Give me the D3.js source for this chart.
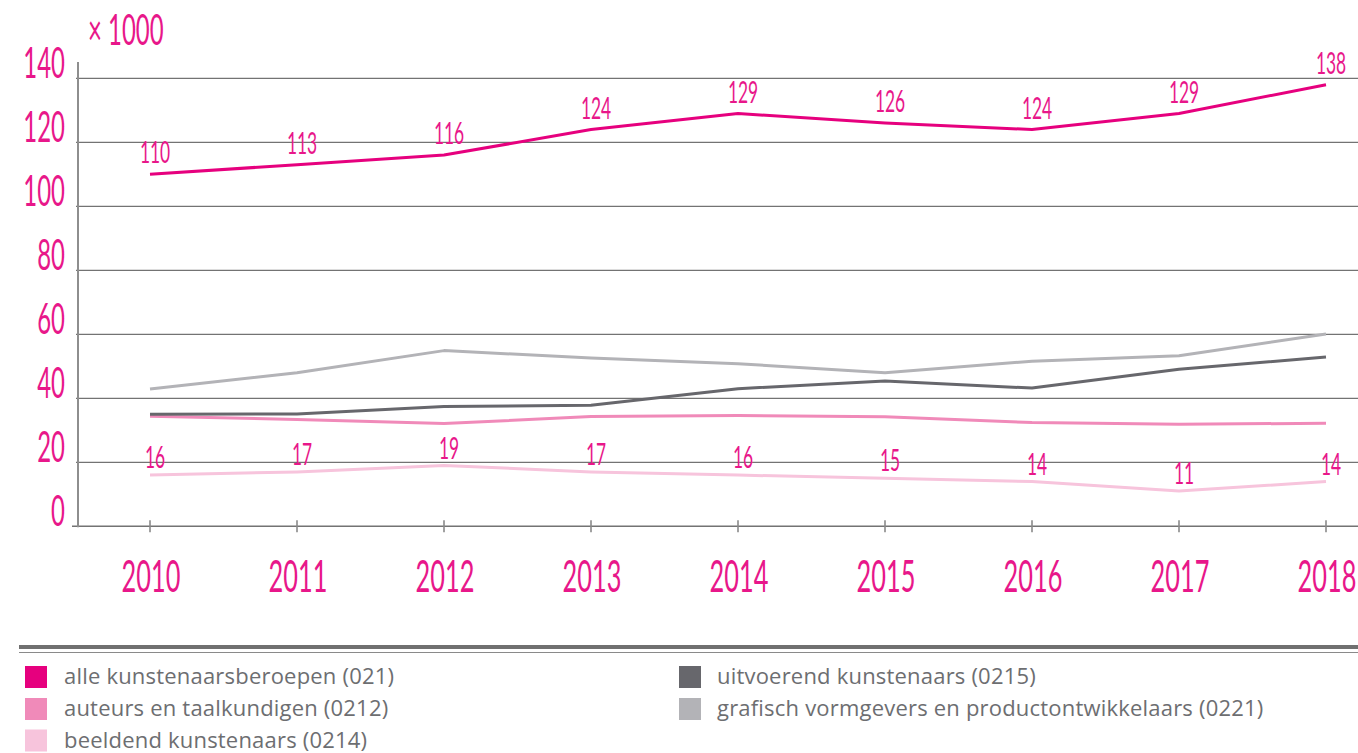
<!DOCTYPE html>
<html>
<head>
<meta charset="utf-8">
<script src="https://cdn.jsdelivr.net/npm/d3@7/dist/d3.min.js"></script>
<style>
  html, body { margin: 0; padding: 0; background: #ffffff; }
  svg { display: block; }
</style>
</head>
<body>
<svg id="chart" width="1358" height="753"></svg>
<script>
// Werkzame kunstenaars per beroepsgroep, x 1000
const years = [2010, 2011, 2012, 2013, 2014, 2015, 2016, 2017, 2018];
const yTicks = [0, 20, 40, 60, 80, 100, 120, 140];

const alleKunstenaars = [110, 113, 116, 124, 129, 126, 124, 129, 138];
const auteurs        = [34.4, 33.4, 32.1, 34.3, 34.6, 34.2, 32.4, 31.9, 32.2];
const beeldend       = [16, 17, 19, 17, 16, 15, 14, 11, 14];
const uitvoerend     = [35.0, 35.1, 37.4, 37.8, 43.0, 45.4, 43.2, 49.1, 52.9];
const grafisch       = [42.9, 48.0, 54.9, 52.6, 50.8, 48.0, 51.6, 53.3, 60.1];

const seriesNames = [
  "alle kunstenaarsberoepen (021)",
  "auteurs en taalkundigen (0212)",
  "beeldend kunstenaars (0214)",
  "uitvoerend kunstenaars (0215)",
  "grafisch vormgevers en productontwikkelaars (0221)"
];
const seriesValues = [alleKunstenaars, auteurs, beeldend, uitvoerend, grafisch];
const seriesColors = ["#e6007e", "#f08ab9", "#f7c4dc", "#67676c", "#b3b3b7"];
// series whose values are printed above the line (lift in px)
const labelledSeries = { 0: 11, 2: 7 };
// draw order: light lines first, main line on top
const drawOrder = [2, 1, 4, 3, 0];

const magenta = "#e8178a";
const gridGrey = "#737373";
const numFont = "Lato, 'Liberation Sans', Arial, sans-serif";
const squeeze = 0.57;

const svg = d3.select("#chart");

const x = d3.scalePoint().domain(years).range([150, 1326]);
const y = d3.scaleLinear().domain([0, 140]).range([526.3, 78.3]);

// condensed number text
function numText(g, str, px, py, size, anchor) {
  return g.append("text")
    .attr("transform", `translate(${px},${py}) scale(${squeeze},1)`)
    .attr("text-anchor", anchor)
    .attr("font-family", numFont)
    .attr("font-weight", 400)
    .attr("font-size", size)
    .attr("fill", magenta)
    .text(str);
}

// horizontal gridlines
const grid = svg.append("g");
grid.selectAll("line")
  .data(yTicks.filter(d => d > 0))
  .join("line")
  .attr("x1", 76).attr("x2", 1358)
  .attr("y1", d => y(d)).attr("y2", d => y(d))
  .attr("stroke", gridGrey)
  .attr("stroke-width", 1.2);

// baseline and vertical axis
svg.append("line")
  .attr("x1", 72).attr("x2", 1358)
  .attr("y1", y(0)).attr("y2", y(0))
  .attr("stroke", gridGrey).attr("stroke-width", 1.5);
svg.append("line")
  .attr("x1", 78).attr("x2", 78)
  .attr("y1", 62).attr("y2", y(0) + 1)
  .attr("stroke", "#8e8e8e").attr("stroke-width", 2);

// year ticks
svg.append("g").selectAll("line")
  .data(years)
  .join("line")
  .attr("x1", d => x(d)).attr("x2", d => x(d))
  .attr("y1", y(0) - 6).attr("y2", y(0) + 6)
  .attr("stroke", "#8a8a8a").attr("stroke-width", 1.6);

// y tick labels
const yLab = svg.append("g");
yTicks.forEach(t => numText(yLab, String(t), 65, y(t), 42, "end"));
numText(svg, "\u00d7 1000", 88, 45, 42, "start");

// x tick labels
const xLab = svg.append("g");
years.forEach(yr => numText(xLab, String(yr), x(yr) + 1, 591.5, 44.5, "middle"));

// lines
const line = d3.line()
  .x((d, i) => x(years[i]))
  .y(d => y(d));

const linesG = svg.append("g");
drawOrder.forEach(si => {
  linesG.append("path")
    .datum(seriesValues[si])
    .attr("d", line)
    .attr("fill", "none")
    .attr("stroke", seriesColors[si])
    .attr("stroke-width", 3)
    .attr("stroke-linejoin", "round");
});

// value labels
const valG = svg.append("g");
Object.keys(labelledSeries).forEach(k => {
  const si = +k;
  const lift = labelledSeries[k];
  seriesValues[si].forEach((v, i) => {
    numText(valG, String(v), x(years[i]) + 5, y(v) - lift, 30.5, "middle");
  });
});

// legend rule
svg.append("line")
  .attr("x1", 19).attr("x2", 1358).attr("y1", 647).attr("y2", 647)
  .attr("stroke", "#707070").attr("stroke-width", 4);
svg.append("line")
  .attr("x1", 19).attr("x2", 1358).attr("y1", 652.5).attr("y2", 652.5)
  .attr("stroke", "#8a8a8a").attr("stroke-width", 1.2);

// legend entries
const legendPos = [
  { sx: 25, tx: 64, cy: 677 },
  { sx: 25, tx: 64, cy: 709 },
  { sx: 25, tx: 64, cy: 740.5 },
  { sx: 679, tx: 717, cy: 677 },
  { sx: 679, tx: 717, cy: 709 }
];
const legend = svg.append("g");
seriesNames.forEach((name, i) => {
  const p = legendPos[i];
  legend.append("rect")
    .attr("x", p.sx).attr("y", p.cy - 11)
    .attr("width", 22).attr("height", 22)
    .attr("fill", seriesColors[i]);
  legend.append("text")
    .attr("x", p.tx).attr("y", p.cy + 7)
    .attr("font-family", "'Open Sans', 'Noto Sans', sans-serif")
    .attr("font-size", 22)
    .attr("letter-spacing", 0.2)
    .attr("fill", "#6d6e71")
    .text(name);
});
</script>
</body>
</html>
